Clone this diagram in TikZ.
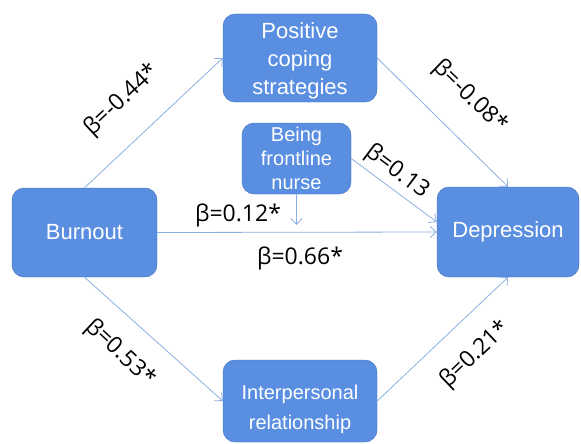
\documentclass[tikz,border=0pt]{standalone}
\usepackage{fontspec}
\setmainfont{Liberation Sans}
\newfontfamily\lblfont{Open Sans}
\usetikzlibrary{arrows.meta}
\definecolor{boxblue}{RGB}{89,142,225}
\definecolor{boxline}{RGB}{62,108,192}
\definecolor{linkblue}{RGB}{140,175,225}

\begin{document}
\begin{tikzpicture}[x=1pt,y=-1pt,
  box/.style={rectangle,draw=boxline,fill=boxblue,rounded corners=12pt,align=center,
    text=white,inner sep=0pt,font=\fontsize{22}{28}\selectfont},
  link/.style={linkblue,line width=0.8pt,-{Straight Barb[length=6pt,width=11pt]}},
  lbl/.style={inner sep=0pt,font=\lblfont\fontsize{23}{26}\selectfont}]
\useasboundingbox (0,0) rectangle (581,444);
\path (84.5,232.5) node(burn)[box,minimum width=145,minimum height=89]{Burnout}
(300,58) node(pos)[box,minimum width=154,minimum height=88]{\rule{0pt}{22pt}Positive\\coping\\strategies}
(296.5,158.5) node(nurse)[box,minimum width=109,minimum height=71,font=\fontsize{20}{24}\selectfont]{Being\\frontline\\nurse}
(508,232) node(dep)[box,minimum width=142,minimum height=90]{Depression}
(300,401) node(inter)[box,minimum width=154,minimum height=82,font=\fontsize{20}{30}\selectfont]{\rule{0pt}{31pt}Interpersonal\\relationship}
(296.5,225) coordinate(mod);
\draw[link](burn.north)--(pos.west);
\draw[link](pos.east)--(dep.north);
\draw[link](nurse.east)--(dep.172);
\draw[link](nurse.south)--(mod);
\draw[link](burn.east)--(dep.west);
\draw[link](burn.south)--(inter.west);
\draw[link](inter.east)--(dep.south);
% path coefficients
\path (122,100) node(b1)[lbl,rotate=43]{β=-0.44*}
(470,97) node(b2)[lbl,rotate=-44]{β=-0.08*}
(397,172) node(b3)[lbl,rotate=-37]{β=0.13}
(238,215) node(b4)[lbl]{β=0.12*}
(300,258) node(b5)[lbl]{β=0.66*}
(120,353) node(b6)[lbl,rotate=-43]{β=0.53*}
(475,355) node(b7)[lbl,rotate=43.5]{β=0.21*};
\end{tikzpicture}
\end{document}
